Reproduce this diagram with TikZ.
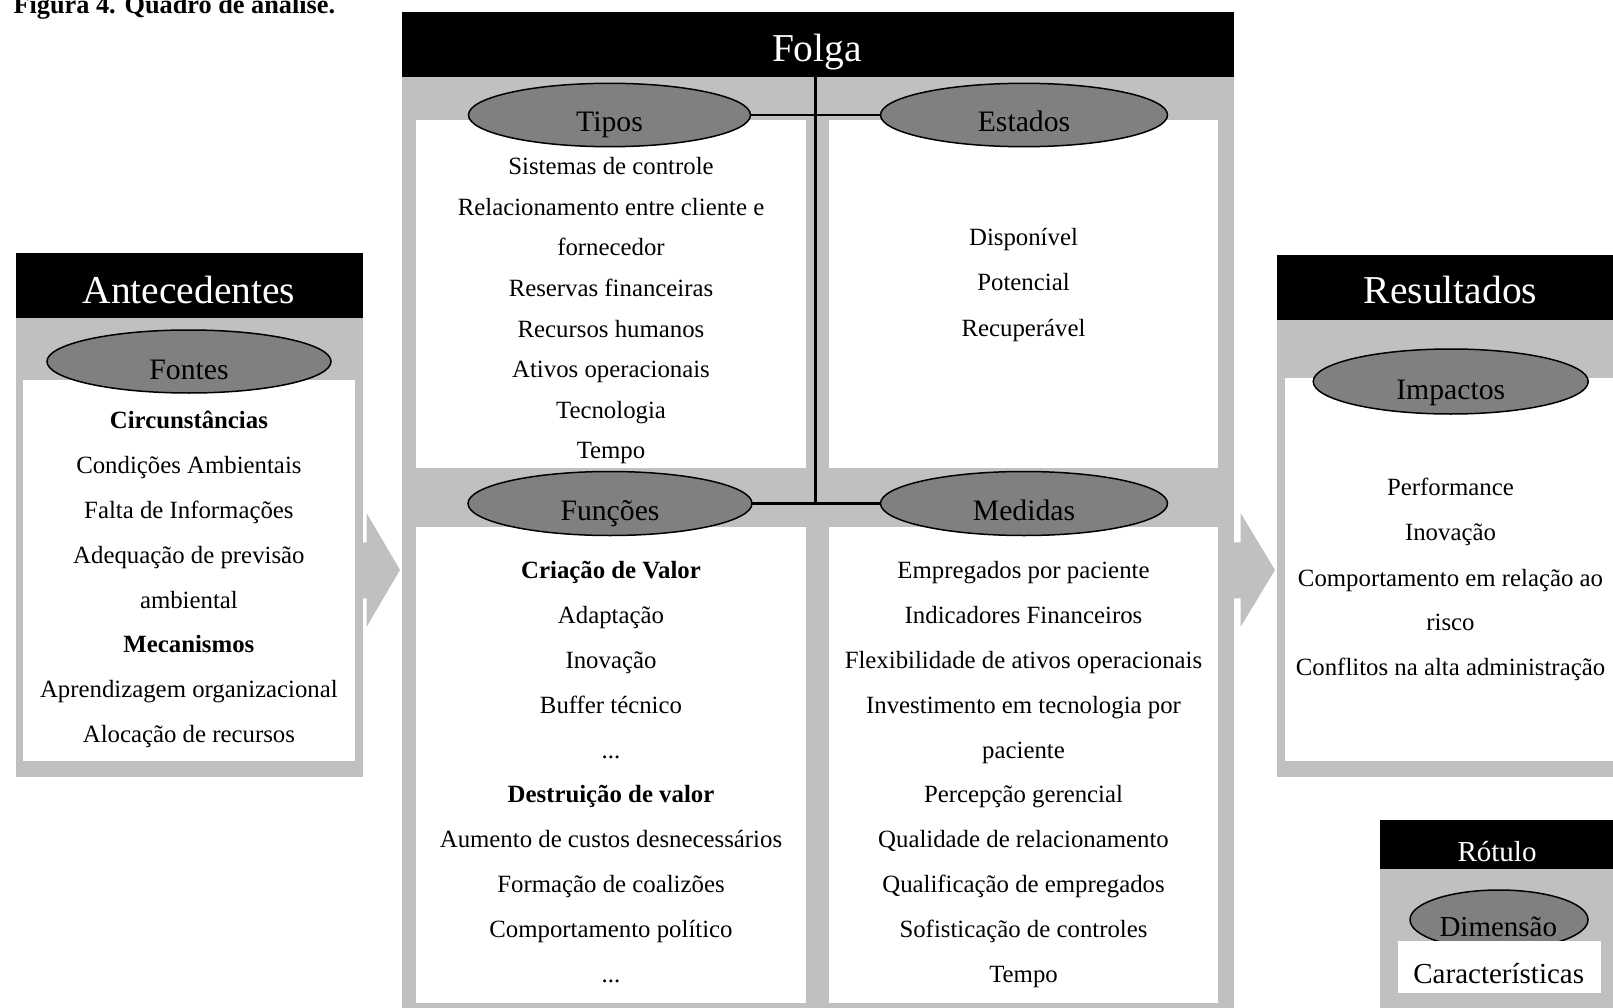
\documentclass[tikz,border=0pt]{standalone}
\usepackage{fontspec}
\setmainfont{Liberation Serif}
\usetikzlibrary{shapes.geometric}
\definecolor{panel}{HTML}{C0C0C0}
\definecolor{ovalfill}{HTML}{808080}
\tikzset{
  panelbox/.style={fill=panel, draw=none},
  whitebox/.style={fill=white, draw=none},
  headbox/.style={fill=black, draw=none},
  bigarrow/.style={fill=panel, draw=none},
  oval/.style={ellipse, draw=black, line width=1.5pt, fill=ovalfill, inner sep=0pt, outer sep=0pt},
  headtxt/.style={anchor=base, text=white, font=\fontsize{39.5}{40}\selectfont, inner sep=0pt},
  ovaltxt/.style={anchor=base, font=\fontsize{29.7}{30}\selectfont, inner sep=0pt},
  legtxt/.style={anchor=base, font=\fontsize{29}{30}\selectfont, inner sep=0pt},
  item/.style={anchor=base, font=\fontsize{24.8}{25}\selectfont, inner sep=0pt},
  bitem/.style={anchor=base, font=\fontsize{24.8}{25}\selectfont\bfseries, inner sep=0pt},
  link/.style={line width=2.8pt}
}
\begin{document}
\begin{tikzpicture}[x=1pt,y=-1pt]
\useasboundingbox (0,0) rectangle (1613,1008);
\fill[white] (0,0) rectangle (1613,1008);

% title (cut at top)
\node[anchor=base west, font=\fontsize{26.3}{27}\selectfont\bfseries, inner sep=0pt] (title) at (13.3,13.3) {Figura 4. Quadro de análise.};

% big arrows
\fill[bigarrow] (340,542.3) -- (366.7,542.3) -- (366.7,513.3) -- (400,570) -- (366.7,626.7) -- (366.7,598.3) -- (340,598.3) -- cycle;
\fill[bigarrow] (1220,542.3) -- (1240.7,542.3) -- (1240.7,513.3) -- (1275,570) -- (1240.7,626.7) -- (1240.7,598.3) -- (1220,598.3) -- cycle;

% Antecedentes panel
\fill[headbox] (15.5,253.3) rectangle (362.7,318);
\fill[panelbox] (15.5,318) rectangle (362.7,776.7);
\fill[whitebox] (22.7,380) rectangle (355,761);
\node[headtxt] (antec) at (188.9,303.3) {Antecedentes};

% Folga panel
\fill[headbox] (401.7,11.7) rectangle (1234,77);
\fill[panelbox] (401.7,77) rectangle (1234,1015);
\fill[whitebox] (416,120) rectangle (806,468);
\fill[whitebox] (829,120) rectangle (1218,468);
\fill[whitebox] (416,527) rectangle (806,1003);
\fill[whitebox] (829,527) rectangle (1218,1003);
\node[headtxt] (folga) at (817,61.7) {Folga};

% Resultados panel
\fill[headbox] (1276.7,255) rectangle (1625,320);
\fill[panelbox] (1276.7,320) rectangle (1625,776.7);
\fill[whitebox] (1285,378) rectangle (1625,761);
\node[headtxt] (result) at (1450.5,303.3) {Resultados};

% ovals
\node[oval, minimum width=284, minimum height=63] (fontes) at (189,361.5) {};
\node[ovaltxt] (fontest) at (189,379.5) {Fontes};
\node[oval, minimum width=275, minimum height=65] (impactos) at (1450.7,381.5) {};
\node[ovaltxt] (impactost) at (1450.7,399.7) {Impactos};

\coordinate (stem) at (815.7,77);
\coordinate (hubA) at (815.7,115);
\coordinate (hubB) at (815.7,503.5);
\node[oval, minimum width=282, minimum height=63.4] (tipos) at (609.5,115) {};
\node[oval, minimum width=287, minimum height=63.4] (estados) at (1024,115) {};
\node[oval, minimum width=284, minimum height=64] (funcoes) at (610,503.5) {};
\node[oval, minimum width=287, minimum height=64] (medidas) at (1024,503.5) {};
\draw[link] (stem) -- (hubB);
\draw[link] (tipos.east) -- (hubA) -- (estados.west);
\draw[link] (funcoes.east) -- (hubB) -- (medidas.west);
\node[ovaltxt] (tipost) at (609.5,131.7) {Tipos};
\node[ovaltxt] (estadost) at (1024,131.7) {Estados};
\node[ovaltxt] (funcoest) at (610,520) {Funções};
\node[ovaltxt] (medidast) at (1024,520) {Medidas};

% Fontes items
\node[bitem] (f1) at (188.9,428.7) {Circunstâncias};
\node[item]  (f2) at (188.9,473.5) {Condições Ambientais};
\node[item]  (f3) at (188.9,518.4) {Falta de Informações};
\node[item]  (f4) at (188.9,563.2) {Adequação de previsão};
\node[item]  (f5) at (188.9,608.0) {ambiental};
\node[bitem] (f6) at (188.9,652.9) {Mecanismos};
\node[item]  (f7) at (188.9,697.7) {Aprendizagem organizacional};
\node[item]  (f8) at (188.9,742.5) {Alocação de recursos};

% Tipos items
\node[item] (t1) at (611,174.8) {Sistemas de controle};
\node[item] (t2) at (611,215.35) {Relacionamento entre cliente e};
\node[item] (t3) at (611,255.9) {fornecedor};
\node[item] (t4) at (611,296.45) {Reservas financeiras};
\node[item] (t5) at (611,337.0) {Recursos humanos};
\node[item] (t6) at (611,377.55) {Ativos operacionais};
\node[item] (t7) at (611,418.1) {Tecnologia};
\node[item] (t8) at (611,458.65) {Tempo};

% Estados items
\node[item] (e1) at (1023.5,245.6) {Disponível};
\node[item] (e2) at (1023.5,290.9) {Potencial};
\node[item] (e3) at (1023.5,336.1) {Recuperável};

% Funcoes items
\node[bitem] (u1) at (611,578.9) {Criação de Valor};
\node[item]  (u2) at (611,623.7) {Adaptação};
\node[item]  (u3) at (611,668.5) {Inovação};
\node[item]  (u4) at (611,713.3) {Buffer técnico};
\node[item]  (u5) at (611,758.1) {...};
\node[bitem] (u6) at (611,802.9) {Destruição de valor};
\node[item]  (u7) at (611,847.7) {Aumento de custos desnecessários};
\node[item]  (u8) at (611,892.5) {Formação de coalizões};
\node[item]  (u9) at (611,937.3) {Comportamento político};
\node[item]  (u10) at (611,982.1) {...};

% Medidas items
\node[item] (m1) at (1023.5,578.9) {Empregados por paciente};
\node[item] (m2) at (1023.5,623.7) {Indicadores Financeiros};
\node[item] (m3) at (1023.5,668.5) {Flexibilidade de ativos operacionais};
\node[item] (m4) at (1023.5,713.3) {Investimento em tecnologia por};
\node[item] (m5) at (1023.5,758.1) {paciente};
\node[item] (m6) at (1023.5,802.9) {Percepção gerencial};
\node[item] (m7) at (1023.5,847.7) {Qualidade de relacionamento};
\node[item] (m8) at (1023.5,892.5) {Qualificação de empregados};
\node[item] (m9) at (1023.5,937.3) {Sofisticação de controles};
\node[item] (m10) at (1023.5,982.1) {Tempo};

% Impactos items
\node[item] (i1) at (1450.5,495.6) {Performance};
\node[item] (i2) at (1450.5,540.8) {Inovação};
\node[item] (i3) at (1450.5,586.1) {Comportamento em relação ao};
\node[item] (i4) at (1450.5,630.3) {risco};
\node[item] (i5) at (1450.5,675.6) {Conflitos na alta administração};

% Legend
\fill[headbox] (1380,820) rectangle (1614,869.3);
\fill[panelbox] (1380,869.3) rectangle (1614,1015);
\node[legtxt, text=white] (rotulo) at (1497,861) {Rótulo};
\node[oval, minimum width=178, minimum height=59.4] (dimoval) at (1499,919.7) {};
\fill[whitebox] (1398.3,941) rectangle (1601,992.7);
\node[legtxt] (dimtxt) at (1498.3,936) {Dimensão};
\node[legtxt] (caract) at (1498.7,983) {Características};
\end{tikzpicture}
\end{document}
